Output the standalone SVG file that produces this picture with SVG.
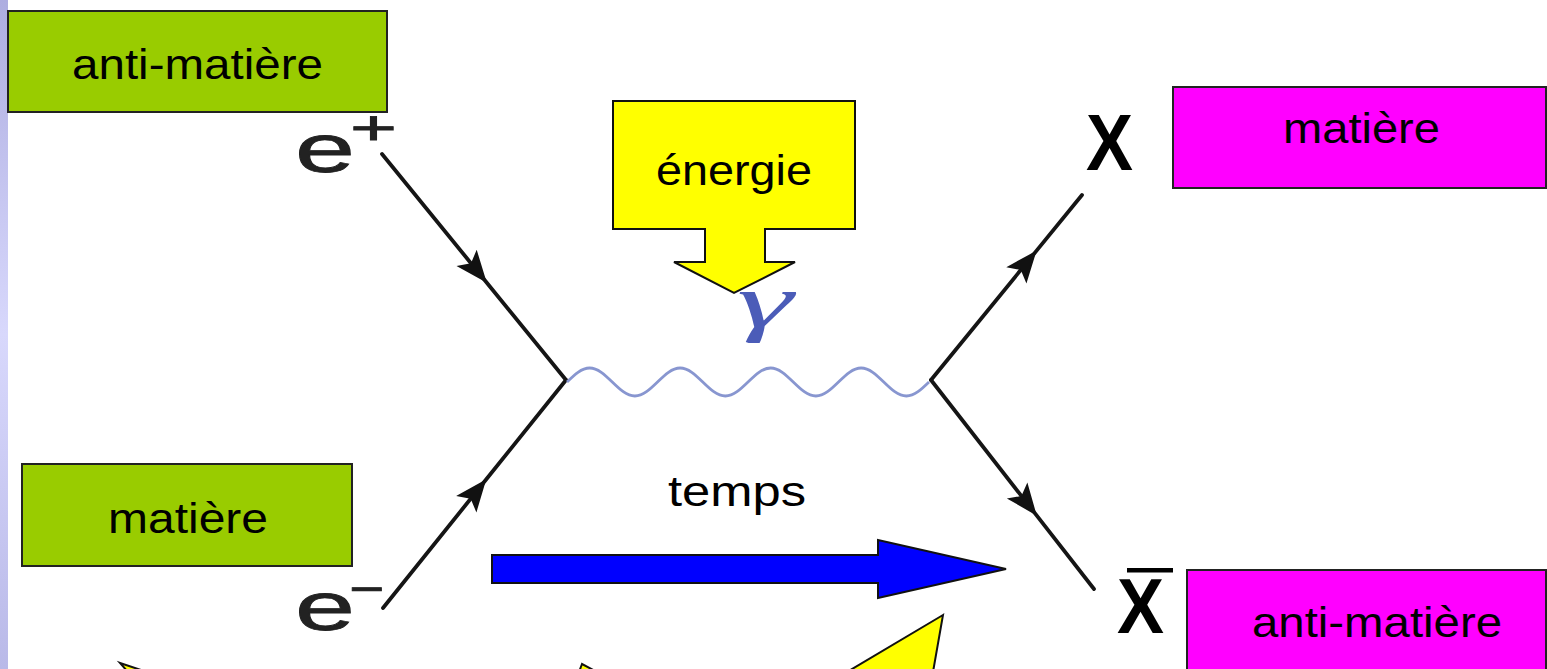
<svg xmlns="http://www.w3.org/2000/svg" width="1547" height="669" viewBox="0 0 1547 669">
<defs>
<linearGradient id="strip" x1="0" y1="0" x2="0" y2="1">
<stop offset="0" stop-color="#adade0"/>
<stop offset="0.5" stop-color="#d8d8fc"/>
<stop offset="1" stop-color="#b9b9e8"/>
</linearGradient>
<marker id="fa" markerUnits="userSpaceOnUse" markerWidth="40" markerHeight="32" viewBox="-34 -16 40 32" refX="0" refY="0" orient="auto" overflow="visible">
<path d="M0,0 L-32,-13 L-25,0 L-32,13 Z" fill="#111"/>
</marker>
</defs>
<style>
.lbl{font-family:"Liberation Sans",Arial,sans-serif;font-size:42px;fill:#000}
.box{stroke:#222;stroke-width:2}
.green{fill:#99cc00}
.mag{fill:#ff00ff}
.yel{fill:#ffff00;stroke:#111;stroke-width:2;stroke-linejoin:miter}
.ferm{fill:none;stroke:#151515;stroke-width:3.8;stroke-linecap:round}
.part{font-family:"Liberation Sans",Arial,sans-serif;fill:#222;stroke:#222;stroke-width:0.8}
.big{font-family:"Liberation Sans",Arial,sans-serif;font-weight:bold;fill:#000}
</style>
<rect x="0" y="0" width="1547" height="669" fill="#ffffff"/>
<rect x="0" y="0" width="8" height="669" fill="url(#strip)"/>

<g id="connectors">
<path class="ferm" d="M382,154 L486.8,282.7 L566,380" marker-mid="url(#fa)"/>
<path class="ferm" d="M383,608 L486.3,479.3 L566,380" marker-mid="url(#fa)"/>
<path class="ferm" d="M931,380 L1036.6,250.6 L1082,195" marker-mid="url(#fa)"/>
<path class="ferm" d="M931,380 L1036.8,515.7 L1094,589" marker-mid="url(#fa)"/>
<path id="photon" fill="none" stroke="#8896d0" stroke-width="2.8" d="M567,382 c7.38,-7.17 14.43,-14 22.625,-14 s15.245,6.83 22.625,14 s14.43,14 22.625,14 s15.245,-6.83 22.625,-14 s14.43,-14 22.625,-14 s15.245,6.83 22.625,14 s14.43,14 22.625,14 s15.245,-6.83 22.625,-14 s14.43,-14 22.625,-14 s15.245,6.83 22.625,14 s14.43,14 22.625,14 s15.245,-6.83 22.625,-14 s14.43,-14 22.625,-14 s15.245,6.83 22.625,14 s14.43,14 22.625,14 s15.245,-6.83 22.625,-14"/>
</g>

<g id="gamma">
<text x="737" y="327" font-family="Liberation Serif, DejaVu Serif, serif" font-style="italic" font-size="76" fill="#4b5cb8" textLength="56" lengthAdjust="spacingAndGlyphs">γ</text>
</g>

<g id="e-plus">
<text class="part" x="295" y="172" font-size="68" textLength="60" lengthAdjust="spacingAndGlyphs">e</text>
<text class="part" x="350" y="144" font-size="48" textLength="47" lengthAdjust="spacingAndGlyphs">+</text>
</g>
<g id="e-minus">
<text class="part" x="295" y="630" font-size="68" textLength="60" lengthAdjust="spacingAndGlyphs">e</text>
<text class="part" x="349" y="605" font-size="48" textLength="35" lengthAdjust="spacingAndGlyphs">−</text>
</g>

<g id="X">
<text class="big" x="1086" y="170" font-size="80" textLength="47" lengthAdjust="spacingAndGlyphs">X</text>
</g>
<g id="Xbar">
<rect x="1127" y="568" width="46" height="4.5" fill="#000"/>
<text class="big" x="1117" y="633" font-size="77" textLength="47" lengthAdjust="spacingAndGlyphs">X</text>
</g>

<g id="antimatiere-top">
<rect class="box green" x="8" y="11" width="379" height="101"/>
<text class="lbl" x="72" y="79" textLength="251" lengthAdjust="spacingAndGlyphs">anti-matière</text>
</g>

<g id="matiere-left">
<rect class="box green" x="22" y="464" width="330" height="102"/>
<text class="lbl" x="108" y="533" textLength="160" lengthAdjust="spacingAndGlyphs">matière</text>
</g>

<g id="energie">
<polygon class="yel" points="613,101 855,101 855,229 765,229 765,262 795,262 734,293 674,262 705,262 705,229 613,229"/>
<text class="lbl" x="656" y="185" textLength="156" lengthAdjust="spacingAndGlyphs">énergie</text>
</g>

<g id="matiere-right">
<rect class="box mag" x="1173" y="87" width="373" height="101"/>
<text class="lbl" x="1283" y="143" textLength="157" lengthAdjust="spacingAndGlyphs">matière</text>
</g>

<g id="antimatiere-right">
<rect class="box mag" x="1187" y="570" width="359" height="110"/>
<text class="lbl" x="1252" y="637" textLength="250" lengthAdjust="spacingAndGlyphs">anti-matière</text>
</g>

<g id="temps">
<text class="lbl" x="668" y="506" textLength="138" lengthAdjust="spacingAndGlyphs">temps</text>
<polygon points="492,555 878,555 878,540 1006,569 878,598 878,583 492,583" fill="#0000ff" stroke="#111" stroke-width="2"/>
</g>

<g id="callouts">
<polygon class="yel" points="943,615 847,672 933,672"/>
<polygon class="yel" points="582,664 579,672 597,672"/>
<polygon class="yel" points="120,663 147,672 128,672"/>
</g>
</svg>
